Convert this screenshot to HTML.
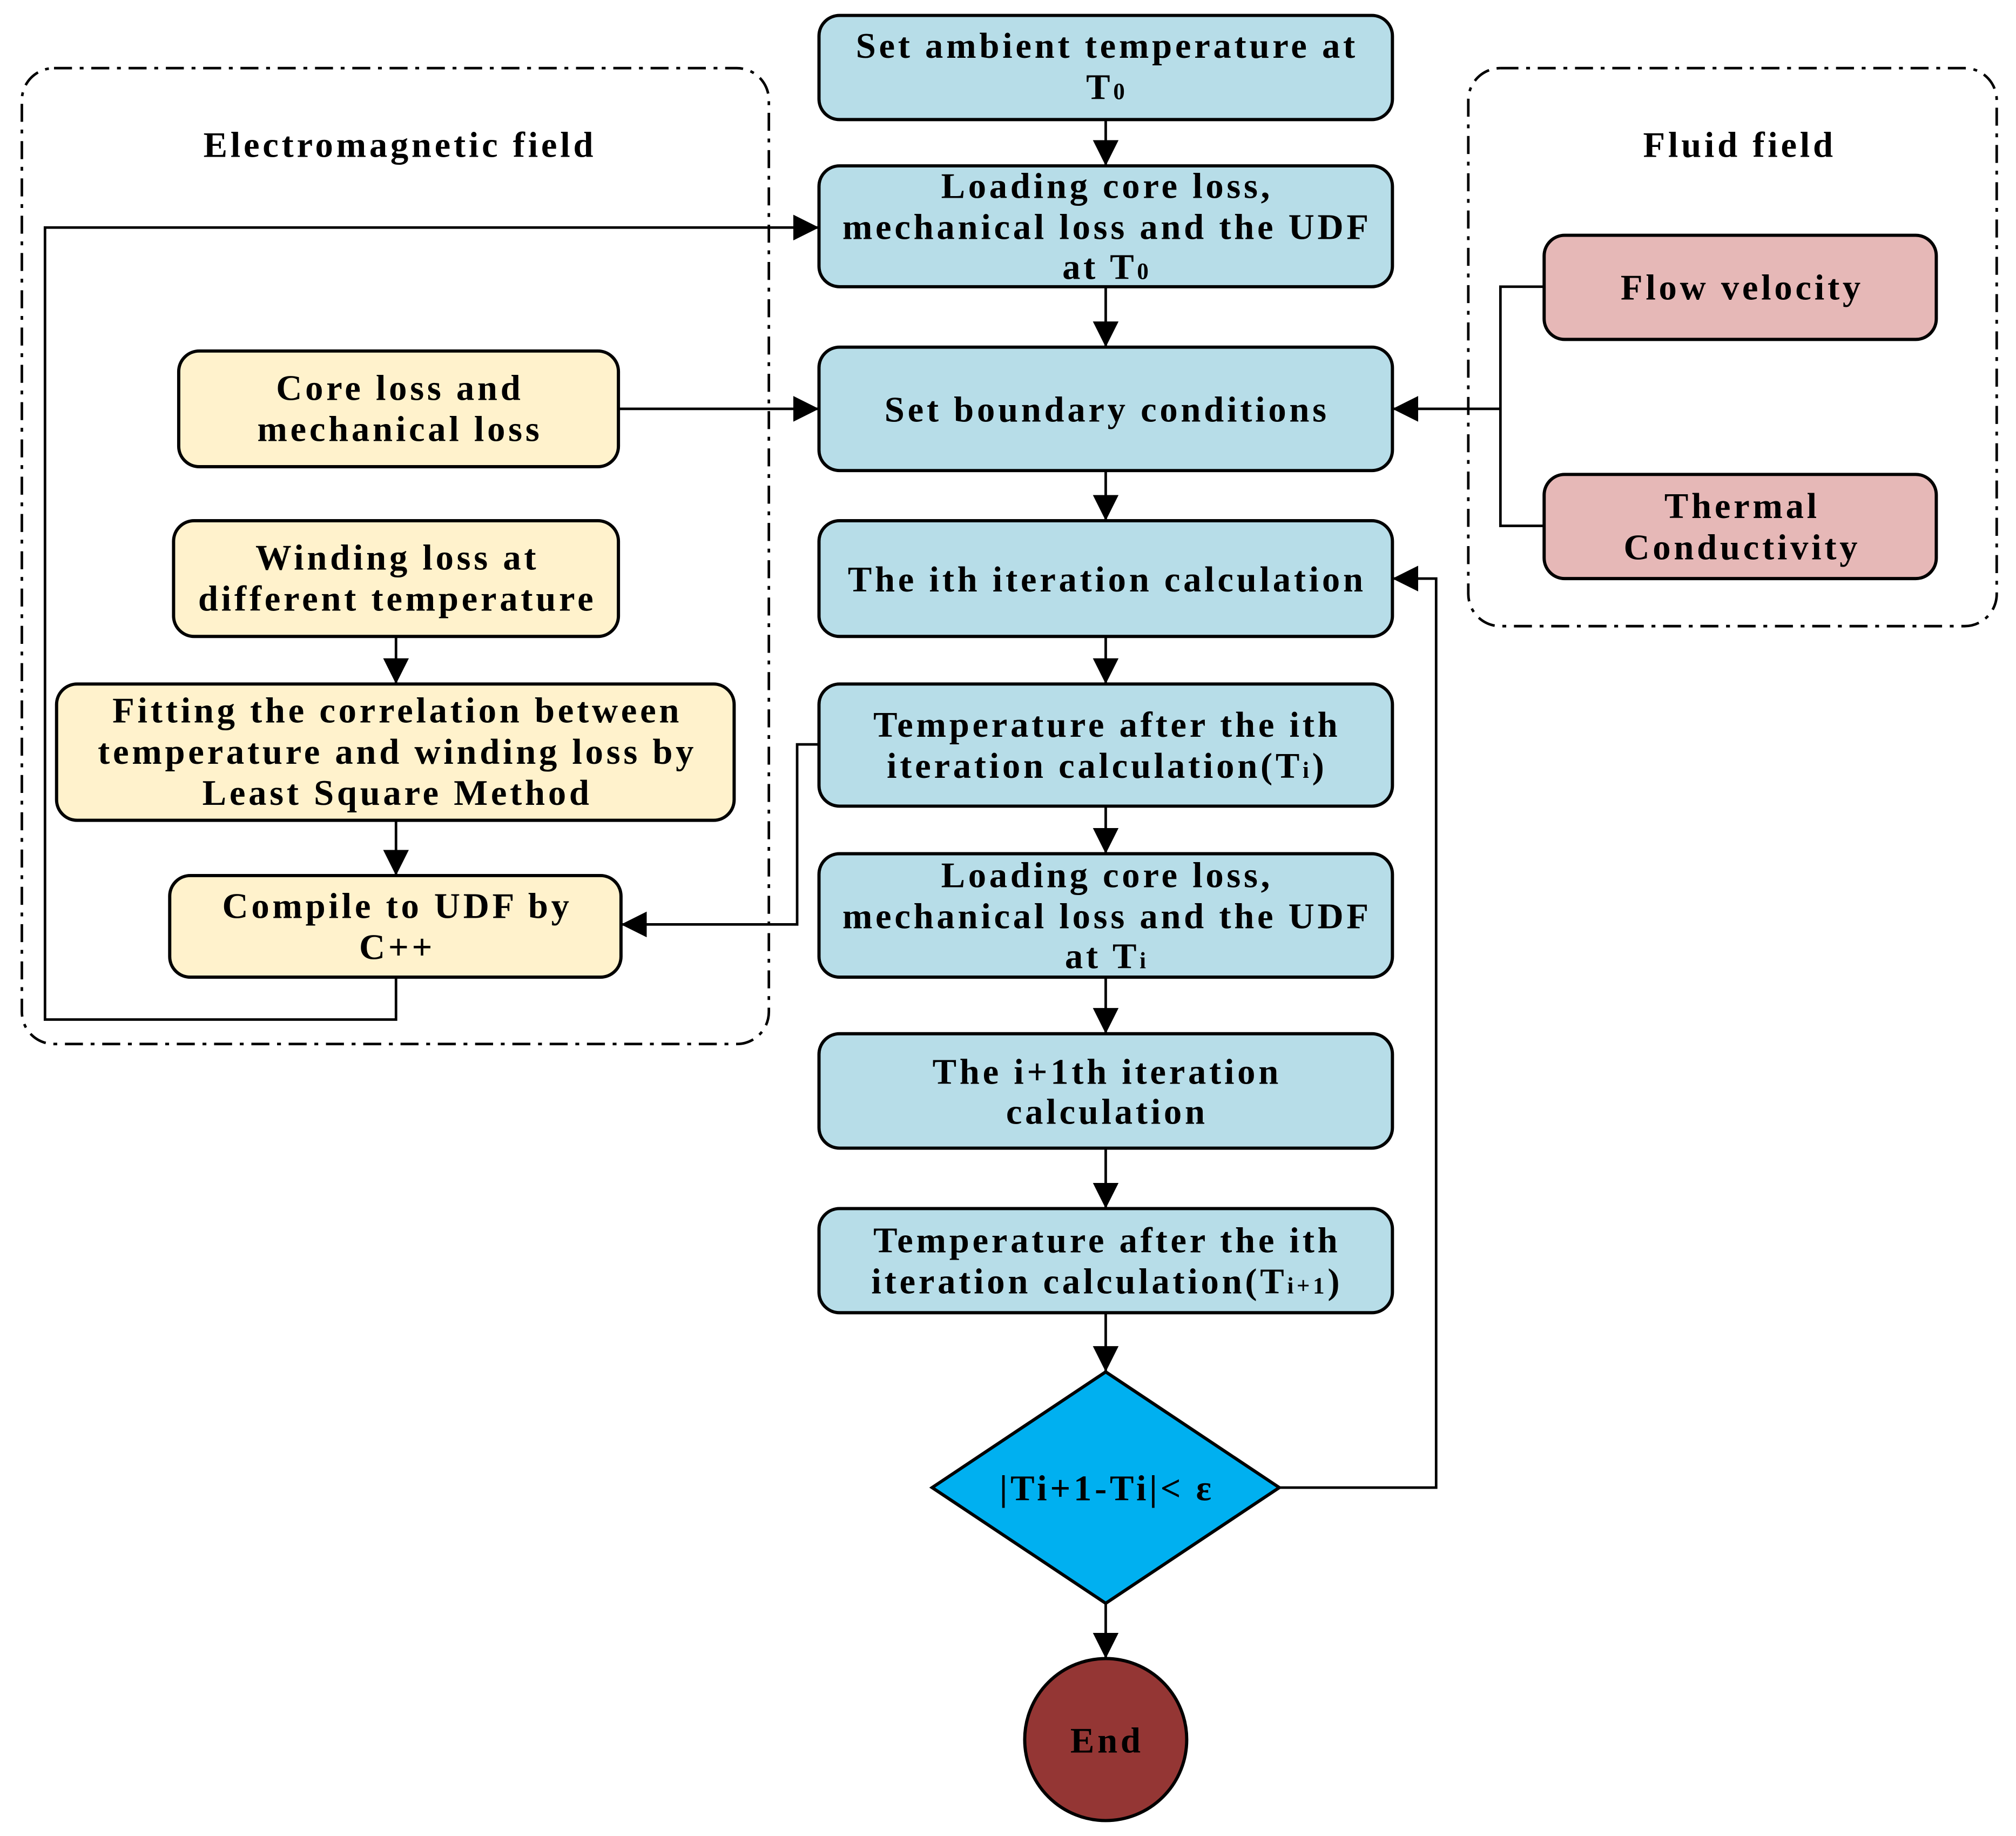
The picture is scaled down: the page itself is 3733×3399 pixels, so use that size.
<!DOCTYPE html>
<html><head><meta charset="utf-8"><style>html,body{margin:0;padding:0;background:#fff}svg{display:block}</style></head>
<body>
<svg width="3733" height="3399" viewBox="0 0 1568 1428" preserveAspectRatio="none" xmlns="http://www.w3.org/2000/svg">
<defs><marker id="b" viewBox="0 0 10 10" refX="10" refY="5" markerWidth="20" markerHeight="20" markerUnits="userSpaceOnUse" orient="auto"><path d="M0,0L10,5L0,10z" fill="#000"/></marker></defs>
<g fill="none" stroke="#000" stroke-width="2" stroke-dasharray="14,6,3,6">
<rect x="17" y="53" width="581" height="759" rx="25"/>
<rect x="1142" y="53" width="411" height="434" rx="25"/>
</g>
<g stroke="#000" stroke-width="2.5" fill="#b7dde8">
<rect x="637" y="12" width="446" height="81" rx="16"/>
<rect x="637" y="129" width="446" height="94" rx="16"/>
<rect x="637" y="270" width="446" height="96" rx="16"/>
<rect x="637" y="405" width="446" height="90" rx="16"/>
<rect x="637" y="532" width="446" height="95" rx="16"/>
<rect x="637" y="664" width="446" height="96" rx="16"/>
<rect x="637" y="804" width="446" height="89" rx="16"/>
<rect x="637" y="940" width="446" height="81" rx="16"/>
<polygon points="860,1067 995,1157 860,1247 725,1157" fill="#00b0f0"/>
<circle cx="860" cy="1353" r="63" fill="#943634"/>
<g fill="#fff2cc"><rect x="139" y="273" width="342" height="90" rx="16"/>
<rect x="135" y="405" width="346" height="90" rx="16"/>
<rect x="44" y="532" width="527" height="106" rx="16"/>
<rect x="132" y="681" width="351" height="79" rx="16"/></g>
<g fill="#e6b8b7"><rect x="1201" y="183" width="305" height="81" rx="16"/>
<rect x="1201" y="369" width="305" height="81" rx="16"/></g>
</g>
<g stroke="#000" stroke-width="2" fill="none" marker-end="url(#b)">
<path d="M860,93V129"/><path d="M860,223V270"/><path d="M860,366V405"/><path d="M860,495V532"/><path d="M860,627V664"/><path d="M860,760V804"/><path d="M860,893V940"/><path d="M860,1021V1067"/><path d="M860,1247V1290"/>
<path d="M481,318H637"/><path d="M1167,318H1083"/>
<path d="M308,495V532"/><path d="M308,638V681"/>
<path d="M637,579H620V719H483"/>
<path d="M308,760V793H35V177H637"/>
<path d="M995,1157H1117V450H1083"/>
</g>
<path d="M1201,223H1167V409H1201" stroke="#000" stroke-width="2" fill="none"/>
<g font-family="'Liberation Serif',serif" font-weight="bold" font-size="28" letter-spacing="2.4" text-anchor="middle" fill="#000">
<text x="861" y="45">Set ambient temperature at</text><text x="861" y="77">T<tspan font-size="18">0</tspan></text>
<text x="861" y="154">Loading core loss,</text><text x="861" y="186">mechanical loss and the UDF</text><text x="861" y="217">at T<tspan font-size="18">0</tspan></text>
<text x="861" y="328">Set boundary conditions</text>
<text x="861" y="460">The ith iteration calculation</text>
<text x="861" y="573">Temperature after the ith</text><text x="861" y="605">iteration calculation(T<tspan font-size="18">i</tspan>)</text>
<text x="861" y="690">Loading core loss,</text><text x="861" y="722">mechanical loss and the UDF</text><text x="861" y="753">at T<tspan font-size="18">i</tspan></text>
<text x="861" y="843">The i+1th iteration</text><text x="861" y="874">calculation</text>
<text x="861" y="974">Temperature after the ith</text><text x="861" y="1006">iteration calculation(T<tspan font-size="18">i+1</tspan>)</text>
<text x="861" y="1167">|Ti+1-Ti|&lt; ε</text>
<text x="861" y="1363">End</text>
<text x="311" y="122">Electromagnetic field</text>
<text x="1353" y="122">Fluid field</text>
<text x="311" y="311">Core loss and</text><text x="311" y="343">mechanical loss</text>
<text x="309" y="443">Winding loss at</text><text x="309" y="475">different temperature</text>
<text x="309" y="562">Fitting the correlation between</text><text x="309" y="594">temperature and winding loss by</text><text x="309" y="626">Least Square Method</text>
<text x="309" y="714">Compile to UDF by</text><text x="309" y="746">C++</text>
<text x="1355" y="233">Flow velocity</text>
<text x="1355" y="403">Thermal</text><text x="1355" y="435">Conductivity</text>
</g>
</svg>
</body></html>
